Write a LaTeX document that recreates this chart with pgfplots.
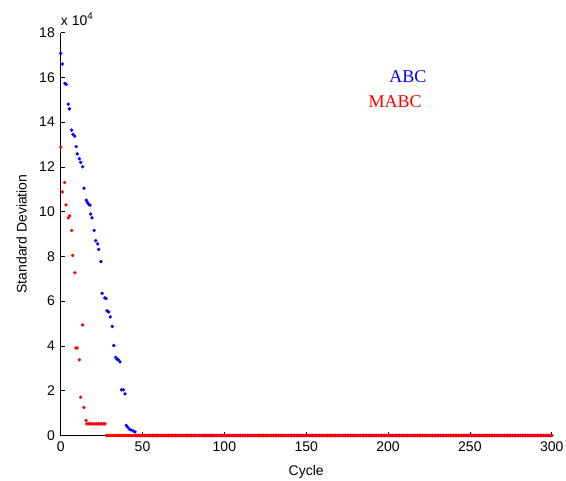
\documentclass[border=0pt]{standalone}
\usepackage{fontspec}
\setmainfont{Liberation Sans}
\newfontfamily\legserif{Liberation Serif}
\usepackage{pgfplots}
\pgfplotsset{compat=1.18}

\definecolor{mblue}{RGB}{0,0,255}
\definecolor{mred}{RGB}{255,0,0}

\begin{document}
\begin{tikzpicture}
\path[use as bounding box] (-60.7pt,-44.7pt) rectangle (505.3pt,435.5pt);
\begin{axis}[
  at={(0,0)}, anchor=south west,
  width=491pt, height=403pt, scale only axis,
  xmin=0, xmax=300, ymin=0, ymax=18,
  axis lines=left,
  axis line style={-, line width=0.8pt},
  xtick={0,50,...,300},
  ytick={0,2,...,18},
  tick align=inside,
  major tick length=4pt,
  tick style={black, line width=0.6pt},
  /pgf/number format/assume math mode=true,
  ticklabel style={font=\fontsize{14}{16}\selectfont, inner sep=0pt},
  xticklabel style={anchor=base, yshift=-15.7pt},
  yticklabel style={anchor=east, xshift=-5.7pt},
  xlabel={Cycle},
  ylabel={Standard Deviation},
  label style={font=\fontsize{14}{16}\selectfont, inner sep=0pt},
  xlabel style={at={(axis description cs:0.5,0)}, anchor=base, yshift=-40.4pt},
  ylabel style={at={(axis description cs:0,0.5)}, anchor=center, yshift=39pt},
  clip=false,
]
% ABC
\addplot[only marks, mark=*, mark size=1.5pt, color=mblue] coordinates {
(0,17.07) (1,16.59) (2.6,15.73) (3.4,15.68) (4.6,14.80) (5.3,14.59)
(6.7,13.64) (7.5,13.45) (8.6,13.37) (9.5,12.90) (10.1,12.58) (11.4,12.36)
(12.2,12.20) (13.4,12.00) (14.2,11.05) (15.6,10.51) (16.2,10.42) (17.1,10.33)
(17.9,10.29) (18.3,9.89) (19.1,9.72) (20.5,9.16) (21.4,8.70) (22.6,8.56)
(23.2,8.31) (24.6,7.77) (25.3,6.35) (26.9,6.15) (27.7,6.12) (28.3,5.57)
(29.3,5.52) (30.3,5.30) (31.5,4.87) (32.4,4.02) (33.6,3.49) (34.4,3.41)
(35.2,3.38) (36.2,3.29) (37.2,2.04) (38.3,2.04) (39.3,1.86) (40.1,0.45)
(40.9,0.38) (42,0.28) (43,0.25) (44.4,0.20) (45.4,0.16)
(46,0) (47,0) (48,0) (49,0) (50,0) (51,0) (52,0) (53,0) (54,0) (55,0)
(56,0) (57,0) (58,0) (59,0) (60,0) (61,0) (62,0) (63,0) (64,0) (65,0)
(66,0) (67,0) (68,0) (69,0) (70,0) (71,0) (72,0) (73,0) (74,0) (75,0)
(76,0) (77,0) (78,0) (79,0) (80,0) (81,0) (82,0) (83,0) (84,0) (85,0)
(86,0) (87,0) (88,0) (89,0) (90,0) (91,0) (92,0) (93,0) (94,0) (95,0)
(96,0) (97,0) (98,0) (99,0) (100,0) (101,0) (102,0) (103,0) (104,0) (105,0)
(106,0) (107,0) (108,0) (109,0) (110,0) (111,0) (112,0) (113,0) (114,0) (115,0)
(116,0) (117,0) (118,0) (119,0) (120,0) (121,0) (122,0) (123,0) (124,0) (125,0)
(126,0) (127,0) (128,0) (129,0) (130,0) (131,0) (132,0) (133,0) (134,0) (135,0)
(136,0) (137,0) (138,0) (139,0) (140,0) (141,0) (142,0) (143,0) (144,0) (145,0)
(146,0) (147,0) (148,0) (149,0) (150,0) (151,0) (152,0) (153,0) (154,0) (155,0)
(156,0) (157,0) (158,0) (159,0) (160,0) (161,0) (162,0) (163,0) (164,0) (165,0)
(166,0) (167,0) (168,0) (169,0) (170,0) (171,0) (172,0) (173,0) (174,0) (175,0)
(176,0) (177,0) (178,0) (179,0) (180,0) (181,0) (182,0) (183,0) (184,0) (185,0)
(186,0) (187,0) (188,0) (189,0) (190,0) (191,0) (192,0) (193,0) (194,0) (195,0)
(196,0) (197,0) (198,0) (199,0) (200,0) (201,0) (202,0) (203,0) (204,0) (205,0)
(206,0) (207,0) (208,0) (209,0) (210,0) (211,0) (212,0) (213,0) (214,0) (215,0)
(216,0) (217,0) (218,0) (219,0) (220,0) (221,0) (222,0) (223,0) (224,0) (225,0)
(226,0) (227,0) (228,0) (229,0) (230,0) (231,0) (232,0) (233,0) (234,0) (235,0)
(236,0) (237,0) (238,0) (239,0) (240,0) (241,0) (242,0) (243,0) (244,0) (245,0)
(246,0) (247,0) (248,0) (249,0) (250,0) (251,0) (252,0) (253,0) (254,0) (255,0)
(256,0) (257,0) (258,0) (259,0) (260,0) (261,0) (262,0) (263,0) (264,0) (265,0)
(266,0) (267,0) (268,0) (269,0) (270,0) (271,0) (272,0) (273,0) (274,0) (275,0)
(276,0) (277,0) (278,0) (279,0) (280,0) (281,0) (282,0) (283,0) (284,0) (285,0)
(286,0) (287,0) (288,0) (289,0) (290,0) (291,0) (292,0) (293,0) (294,0) (295,0)
(296,0) (297,0) (298,0) (299,0) (300,0)
};
% MABC
\addplot[only marks, mark=*, mark size=1.5pt, color=mred] coordinates {
(0,12.88) (1,10.88) (2.4,11.30) (3.2,10.30) (4.6,9.72) (5.5,9.81)
(6.7,9.16) (7.3,8.04) (8.7,7.27) (9.3,3.91) (10,3.91) (11.4,3.38)
(12.2,1.71) (13.4,4.94) (14.2,1.25) (15.5,0.67)
(16,0.52) (17,0.52) (18,0.52) (19,0.52) (20,0.52) (21,0.52)
(22,0.52) (23,0.52) (24,0.52) (25,0.52) (26,0.52) (27,0.52)
(28,0) (29,0) (30,0) (31,0) (32,0) (33,0) (34,0) (35,0)
(36,0) (37,0) (38,0) (39,0) (40,0) (41,0) (42,0) (43,0) (44,0) (45,0)
(46,0) (47,0) (48,0) (49,0) (50,0) (51,0) (52,0) (53,0) (54,0) (55,0)
(56,0) (57,0) (58,0) (59,0) (60,0) (61,0) (62,0) (63,0) (64,0) (65,0)
(66,0) (67,0) (68,0) (69,0) (70,0) (71,0) (72,0) (73,0) (74,0) (75,0)
(76,0) (77,0) (78,0) (79,0) (80,0) (81,0) (82,0) (83,0) (84,0) (85,0)
(86,0) (87,0) (88,0) (89,0) (90,0) (91,0) (92,0) (93,0) (94,0) (95,0)
(96,0) (97,0) (98,0) (99,0) (100,0) (101,0) (102,0) (103,0) (104,0) (105,0)
(106,0) (107,0) (108,0) (109,0) (110,0) (111,0) (112,0) (113,0) (114,0) (115,0)
(116,0) (117,0) (118,0) (119,0) (120,0) (121,0) (122,0) (123,0) (124,0) (125,0)
(126,0) (127,0) (128,0) (129,0) (130,0) (131,0) (132,0) (133,0) (134,0) (135,0)
(136,0) (137,0) (138,0) (139,0) (140,0) (141,0) (142,0) (143,0) (144,0) (145,0)
(146,0) (147,0) (148,0) (149,0) (150,0) (151,0) (152,0) (153,0) (154,0) (155,0)
(156,0) (157,0) (158,0) (159,0) (160,0) (161,0) (162,0) (163,0) (164,0) (165,0)
(166,0) (167,0) (168,0) (169,0) (170,0) (171,0) (172,0) (173,0) (174,0) (175,0)
(176,0) (177,0) (178,0) (179,0) (180,0) (181,0) (182,0) (183,0) (184,0) (185,0)
(186,0) (187,0) (188,0) (189,0) (190,0) (191,0) (192,0) (193,0) (194,0) (195,0)
(196,0) (197,0) (198,0) (199,0) (200,0) (201,0) (202,0) (203,0) (204,0) (205,0)
(206,0) (207,0) (208,0) (209,0) (210,0) (211,0) (212,0) (213,0) (214,0) (215,0)
(216,0) (217,0) (218,0) (219,0) (220,0) (221,0) (222,0) (223,0) (224,0) (225,0)
(226,0) (227,0) (228,0) (229,0) (230,0) (231,0) (232,0) (233,0) (234,0) (235,0)
(236,0) (237,0) (238,0) (239,0) (240,0) (241,0) (242,0) (243,0) (244,0) (245,0)
(246,0) (247,0) (248,0) (249,0) (250,0) (251,0) (252,0) (253,0) (254,0) (255,0)
(256,0) (257,0) (258,0) (259,0) (260,0) (261,0) (262,0) (263,0) (264,0) (265,0)
(266,0) (267,0) (268,0) (269,0) (270,0) (271,0) (272,0) (273,0) (274,0) (275,0)
(276,0) (277,0) (278,0) (279,0) (280,0) (281,0) (282,0) (283,0) (284,0) (285,0)
(286,0) (287,0) (288,0) (289,0) (290,0) (291,0) (292,0) (293,0) (294,0) (295,0)
(296,0) (297,0) (298,0) (299,0) (300,0)
};
% series names as text in the plot area
\node[text=mblue, font=\legserif\fontsize{18}{20}\selectfont] at (axis cs:212.2,16.05) {ABC};
\node[text=mred, font=\legserif\fontsize{18}{20}\selectfont] at (axis cs:204.4,14.9) {MABC};
% exponent label
\node[anchor=base west, inner sep=0pt, font=\fontsize{14}{16}\selectfont] at (axis description cs:0,1) [yshift=7.5pt] {x 10\textsuperscript{4}};
\end{axis}
\end{tikzpicture}
\end{document}
